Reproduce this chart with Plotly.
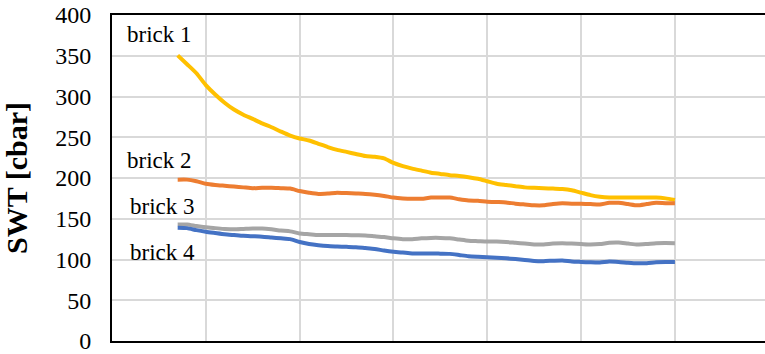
import plotly.graph_objects as go

# Day of measurement (shared by all four bricks)
days = list(range(7, 61))

# Soil water tension [cbar] per brick
brick1 = [350.5, 339.6, 328.5, 314, 302.5, 292.4, 284, 277.7, 272.5, 267,
          262.3, 257, 252, 248.5, 246, 242, 238, 234.5, 232, 229.5,
          227, 226, 224, 218.5, 214.5, 211.5, 209, 206.5, 205, 203.5,
          202.5, 201, 199, 196, 193, 191.5, 190, 188.5, 188, 187.5,
          187, 186.5, 185, 182, 179, 177, 176, 176, 176, 176,
          176, 176, 175, 173]
brick2 = [198, 198, 196, 193, 191.5, 190.5, 189.5, 188.5, 187.5, 188,
          188, 187.5, 187, 184, 182, 180.5, 181, 182, 181.5, 181,
          180.5, 179.5, 178, 176, 175, 174.5, 174.5, 176, 176, 176,
          174, 172.5, 172, 171, 170.5, 170, 168.5, 167.5, 166.5, 166.5,
          168, 169, 168.5, 168.5, 168, 167.5, 169.5, 169.5, 168, 166.5,
          168, 169.5, 169, 169]
brick3 = [143, 143, 141, 139.5, 138.5, 137.5, 137, 137.5, 138, 138,
          137, 135.5, 134.5, 132, 131, 130, 130, 130, 130, 129.7,
          129.5, 128.5, 127.5, 126, 125, 125, 126, 126.5, 126.5, 126,
          124.5, 123, 122.5, 122, 122, 121.5, 120.5, 119.5, 118.5, 118.5,
          119.5, 120, 119.5, 119, 118.5, 119, 120.5, 120.8, 119.5, 118.3,
          119, 120, 120.1, 120]
brick4 = [139, 138.5, 136, 134, 132.5, 131, 130, 129, 128.5, 128,
          127, 126, 125, 121.5, 119, 117.5, 116.5, 116, 115.5, 115,
          114, 113, 111, 109.5, 108.5, 107.5, 107.3, 107.5, 107.2, 106.9,
          105.5, 104, 103.3, 102.8, 102.3, 101.5, 100.5, 99.5, 98.3, 98,
          98.5, 98.8, 97.5, 97, 96.5, 96.3, 97.5, 97, 96, 95.3,
          95.5, 96.5, 96.8, 96.8]

series_names = ["brick 1", "brick 2", "brick 3", "brick 4"]
series_colors = ["#FFC000", "#ED7D31", "#A5A5A5", "#4472C4"]

# Label anchor points (day, cbar) for the in-plot series names
label_x = [1.4, 1.4, 1.7, 1.7]
label_y = [376, 222, 165, 109]

y_ticks = [0, 50, 100, 150, 200, 250, 300, 350, 400]

serif = "Liberation Serif"

fig = go.Figure()
for name, vals, col in zip(series_names, [brick1, brick2, brick3, brick4], series_colors):
    fig.add_trace(go.Scatter(
        x=days, y=vals, mode="lines", name=name,
        line=dict(color=col, width=4, shape="spline", smoothing=0.6),
        showlegend=False,
    ))

for name, lx, ly in zip(series_names, label_x, label_y):
    fig.add_annotation(x=lx, y=ly, text=name, showarrow=False,
                       xanchor="left", yanchor="middle",
                       font=dict(family=serif, size=23, color="#000000"))

fig.update_layout(
    width=765, height=354,
    margin=dict(l=112, r=0, t=15, b=7),
    paper_bgcolor="#ffffff", plot_bgcolor="#ffffff",
    font=dict(family=serif, color="#000000"),
)
fig.update_xaxes(
    range=[0, 69.6], tick0=0, dtick=10, showticklabels=False, ticks="",
    showgrid=True, gridcolor="#D9D9D9", gridwidth=2,
    showline=True, linecolor="#000000", linewidth=2, mirror=True,
    zeroline=False,
)
fig.update_yaxes(
    range=[0, 400], tickvals=y_ticks, ticks="",
    tickfont=dict(family=serif, size=24, color="#000000"),
    ticklabelstandoff=14, ticklabeloverflow="allow",
    showgrid=True, gridcolor="#D9D9D9", gridwidth=2,
    showline=True, linecolor="#000000", linewidth=2, mirror=False,
    zeroline=False,
    title=dict(text="<b>SWT [cbar]</b>", standoff=20,
               font=dict(family=serif, size=30, color="#000000")),
)

fig.write_html("out.html")
